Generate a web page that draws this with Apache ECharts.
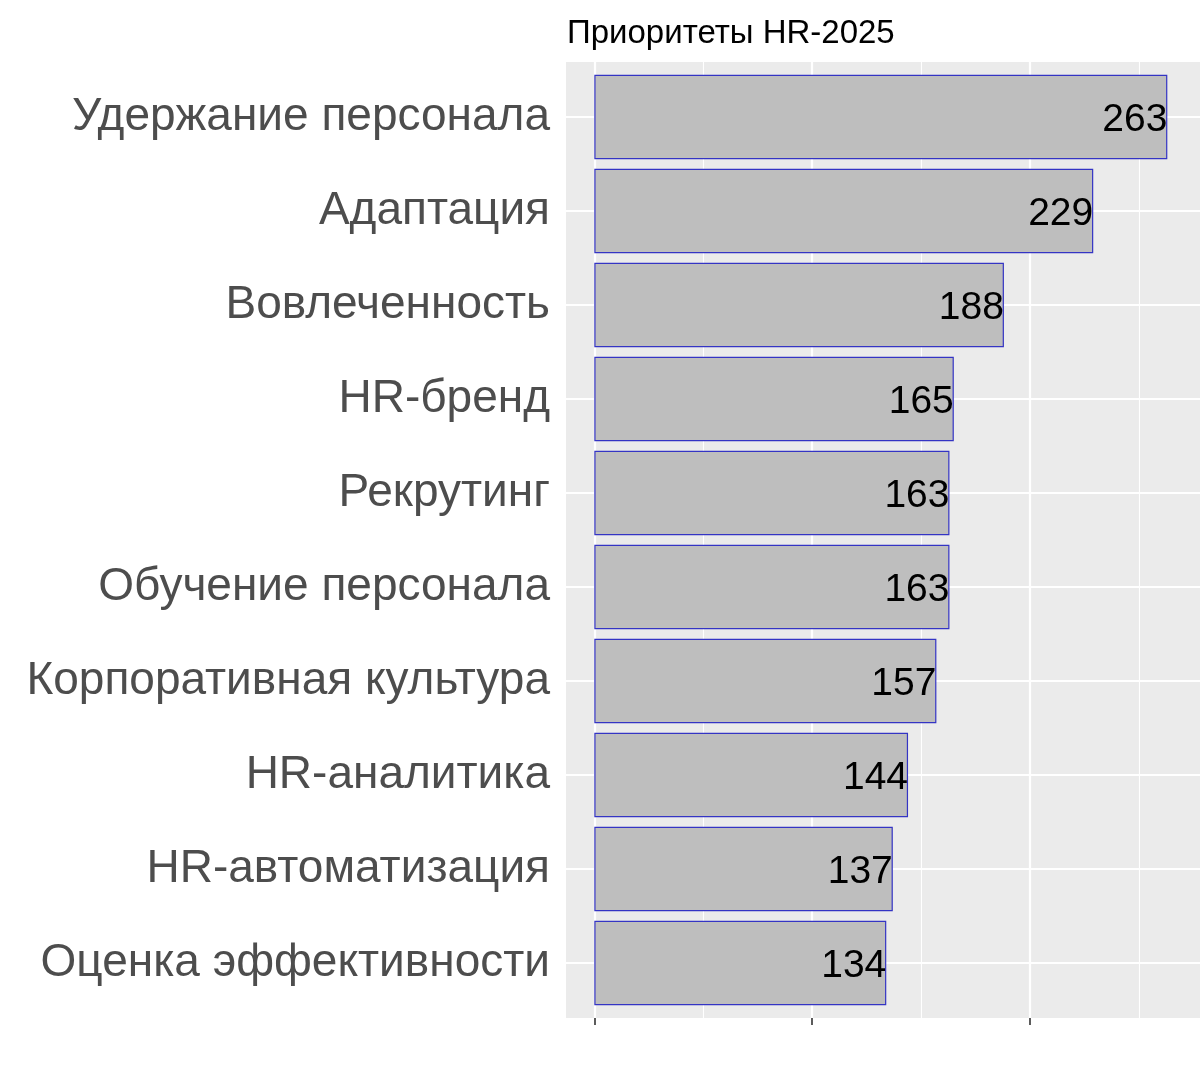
<!DOCTYPE html>
<html>
<head>
<meta charset="utf-8">
<script src="https://cdn.jsdelivr.net/npm/echarts@6/dist/echarts.min.js"></script>
<style>
html,body{margin:0;padding:0;background:#fff;}
#c{width:1200px;height:1075px;}
</style>
</head>
<body>
<div id="c"></div>
<script>
const categories = ['Удержание персонала','Адаптация','Вовлеченность','HR-бренд','Рекрутинг','Обучение персонала','Корпоративная культура','HR-аналитика','HR-автоматизация','Оценка эффективности'];
const values = [263,229,188,165,163,163,157,144,137,134];
const majorBreaks = [0,100,200];
const minorBreaks = [50,150,250];
const xMin = -13;
const xMax = 278;

const chart = echarts.init(document.getElementById('c'), null, {renderer:'canvas'});
const FONT = 'Liberation Sans, Arial, sans-serif';

const vLines = majorBreaks.map(v => ({xAxis: v, lineStyle:{color:'#ffffff', width:2.2, type:'solid'}}))
  .concat(minorBreaks.map(v => ({xAxis: v, lineStyle:{color:'#ffffff', width:1.1, type:'solid'}})));
const hLines = categories.map(c => ({yAxis: c, lineStyle:{color:'#ffffff', width:2.2, type:'solid'}}));

chart.setOption({
  animation:false,
  backgroundColor:'#ffffff',
  title:{
    text:'Приоритеты HR-2025',
    left:562, top:12,
    textStyle:{fontFamily:FONT, fontSize:33, fontWeight:'normal', color:'#000000'}
  },
  grid:[
    {left:566, right:0, top:70, height:940, containLabel:false},
    {left:566, right:0, top:62, height:956, show:true, backgroundColor:'#EBEBEB', borderWidth:0, z:0}
  ],
  xAxis:[
    {gridIndex:0, type:'value', min:xMin, max:xMax, show:false},
    {gridIndex:1, type:'value', min:xMin, max:xMax, position:'bottom',
     axisLine:{show:false},
     axisTick:{show:true, customValues:majorBreaks, length:7, lineStyle:{color:'#333333', width:1.6}},
     axisLabel:{show:false, customValues:majorBreaks},
     splitLine:{show:false}}
  ],
  yAxis:[
    {gridIndex:0, type:'category', data:categories, inverse:true,
     axisLine:{show:false},
     axisTick:{show:true, alignWithLabel:true, length:8, lineStyle:{color:'#333333', width:1.6}},
     axisLabel:{fontFamily:FONT, fontSize:46, color:'#4D4D4D', margin:16, padding:[6,0,0,0]},
     splitLine:{show:false}},
    {gridIndex:1, type:'value', min:0, max:1, show:false}
  ],
  series:[
    {type:'scatter', xAxisIndex:1, yAxisIndex:1, data:[], z:1, silent:true,
     markLine:{silent:true, symbol:['none','none'], label:{show:false}, data:vLines, z:1}},
    {type:'scatter', xAxisIndex:0, yAxisIndex:0, data:[], z:1, silent:true,
     markLine:{silent:true, symbol:['none','none'], label:{show:false}, data:hLines, z:1}},
    {type:'bar', xAxisIndex:0, yAxisIndex:0, data:values, barWidth:'90%', z:3,
     itemStyle:{color:'#BEBEBE', borderColor:'#3434C4', borderWidth:1.2},
     label:{show:true, position:'insideRight', distance:0, offset:[0,3], fontFamily:FONT, fontSize:39, color:'#000000'}}
  ]
});
</script>
</body>
</html>
